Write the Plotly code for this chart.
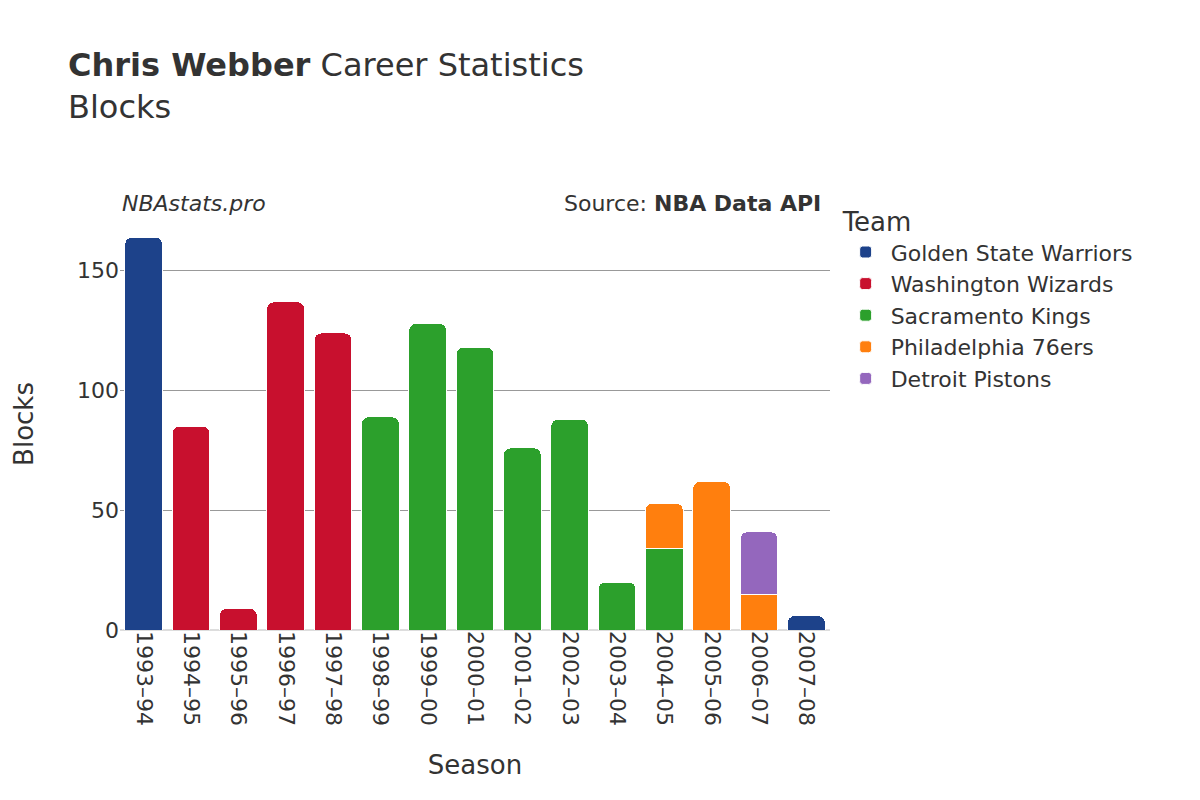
import plotly.graph_objects as go

seasons = ["1993–94", "1994–95", "1995–96", "1996–97", "1997–98", "1998–99", "1999–00",
           "2000–01", "2001–02", "2002–03", "2003–04", "2004–05", "2005–06", "2006–07", "2007–08"]

teams = ["Golden State Warriors", "Washington Wizards", "Sacramento Kings",
         "Philadelphia 76ers", "Detroit Pistons"]
colors = ["#1d428a", "#c8102e", "#2ca02c", "#ff7f0e", "#9467bd"]

gsw_seasons = ["1993–94", "2007–08"]
gsw_blocks = [164, 6]
was_seasons = ["1994–95", "1995–96", "1996–97", "1997–98"]
was_blocks = [85, 9, 137, 124]
sac_seasons = ["1998–99", "1999–00", "2000–01", "2001–02", "2002–03", "2003–04", "2004–05"]
sac_blocks = [89, 128, 118, 76, 88, 20, 34]
phi_seasons = ["2004–05", "2005–06", "2006–07"]
phi_blocks = [19, 62, 15]
det_seasons = ["2006–07"]
det_blocks = [26]

series = [(gsw_seasons, gsw_blocks), (was_seasons, was_blocks), (sac_seasons, sac_blocks),
          (phi_seasons, phi_blocks), (det_seasons, det_blocks)]

fig = go.Figure()
for name, color, (x, y) in zip(teams, colors, series):
    fig.add_trace(go.Bar(x=x, y=y, name=name, marker_color=color,
                         marker_line_color="white", marker_line_width=1))

fig.update_layout(
    width=1200, height=800,
    barmode="stack", bargap=0.2, barcornerradius=7,
    plot_bgcolor="white", paper_bgcolor="white",
    font=dict(family="DejaVu Sans", size=20, color="#333"),
    title=dict(text="<b>Chris Webber</b> Career Statistics<br>Blocks",
               x=0.05, xanchor="left", y=0.915, yanchor="middle", font=dict(size=32)),
    margin=dict(l=112, r=378, t=210, b=178, autoexpand=False),
    legend=dict(title=dict(text="Team", font=dict(size=26)), x=1.015, y=1.05,
                yanchor="top", traceorder="normal", font=dict(size=22),
                itemwidth=40, tracegroupgap=8),
    xaxis=dict(title=dict(text="Season", font=dict(size=26), standoff=30), tickangle=90,
               categoryorder="array", categoryarray=seasons, automargin=False,
               tickfont=dict(size=22)),
    yaxis=dict(title=dict(text="Blocks", font=dict(size=26), standoff=35), gridcolor="#999",
               range=[0, 172], tickvals=[0, 50, 100, 150], zeroline=True,
               zerolinecolor="#ddd", automargin=False, tickfont=dict(size=22)),
    annotations=[
        dict(text="<i>NBAstats.pro</i>", xref="paper", yref="paper", x=0, y=1.07,
             xanchor="left", showarrow=False, font=dict(size=22)),
        dict(text="Source: <b>NBA Data API</b>", xref="paper", yref="paper", x=0.99, y=1.07,
             xanchor="right", showarrow=False, font=dict(size=22)),
    ],
)

fig.write_html("out.html")
